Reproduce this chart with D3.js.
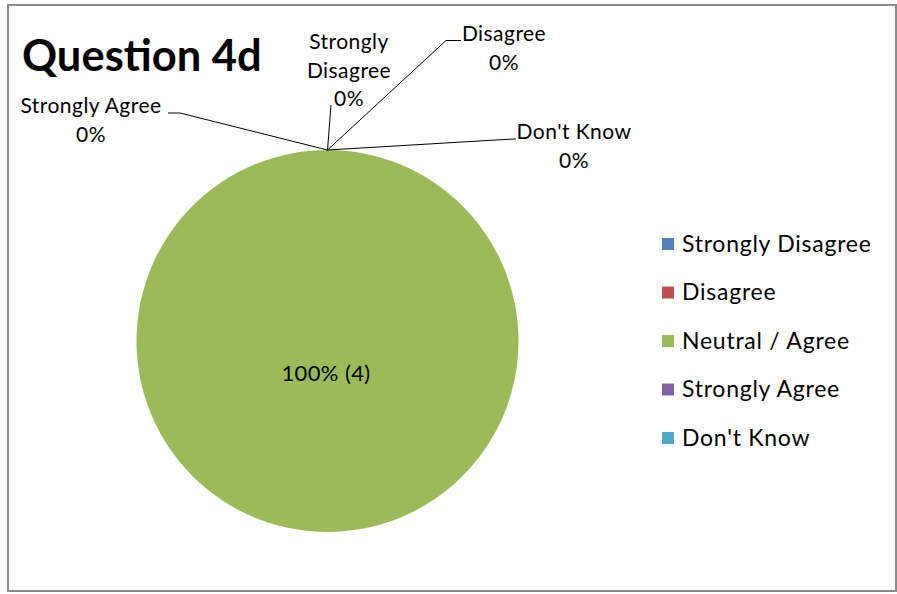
<!DOCTYPE html>
<html>
<head>
<meta charset="utf-8">
<script src="https://cdn.jsdelivr.net/npm/d3@7"></script>
<style>
  html, body { margin: 0; padding: 0; background: #fff; }
  svg { display: block; }
  text { font-family: Lato, "Open Sans", sans-serif; fill: #000; }
</style>
</head>
<body>
<svg id="chart" width="897" height="594"></svg>
<script>
// Survey responses for Question 4d
const categories = ["Strongly Disagree", "Disagree", "Neutral / Agree", "Strongly Agree", "Don't Know"];
const counts = [0, 0, 4, 0, 0];
const colors = ["#4F81BD", "#C0504D", "#9BBB59", "#8064A2", "#4BACC6"];
const title = "Question 4d";

const svg = d3.select("#chart");

// chart frame
svg.append("rect")
  .attr("x", 8).attr("y", 5)
  .attr("width", 888).attr("height", 586)
  .attr("fill", "#fff")
  .attr("stroke", "#8a8a8a")
  .attr("stroke-width", 2);

svg.append("text")
  .attr("x", 22).attr("y", 71)
  .attr("font-size", 43.5)
  .attr("font-weight", "bold")
  .text(title);

const cx = 327.5, cy = 341, r = 191;
const total = d3.sum(counts);
const data = categories.map((c, i) => ({ name: c, value: counts[i], color: colors[i] }));

const pie = d3.pie().sort(null).value(d => d.value);
const arcs = pie(data);
const arc = d3.arc().innerRadius(0).outerRadius(r);

const g = svg.append("g").attr("transform", `translate(${cx},${cy})`);
g.selectAll("path")
  .data(arcs.filter(a => a.value > 0))
  .join("path")
  .attr("d", arc)
  .attr("fill", d => d.data.color);

const pct = v => Math.round(v / total * 100) + "%";

// labels placed outside the pie for the empty slices, with leader lines
const outside = {
  "Strongly Disagree": { lines: ["Strongly", "Disagree"], x: 349, y: 49, path: [[331, 105]] },
  "Disagree": { lines: ["Disagree"], x: 504, y: 41, path: [[446, 40.5], [461, 40.5]] },
  "Strongly Agree": { lines: ["Strongly Agree"], x: 91, y: 113, path: [[180, 113], [168, 113]] },
  "Don't Know": { lines: ["Don't Know"], x: 574, y: 139, path: [[513, 139], [516, 139]] }
};
const lh = 28.5;

arcs.forEach(a => {
  const mid = (a.startAngle + a.endAngle) / 2;
  if (a.value > 0) {
    const full = a.endAngle - a.startAngle >= 2 * Math.PI - 1e-9;
    const [lx, ly] = arc.centroid(a);
    g.append("text")
      .attr("x", full ? -1.5 : lx)
      .attr("y", full ? 380.5 - cy : ly)
      .attr("text-anchor", "middle")
      .attr("font-size", 22)
      .attr("letter-spacing", 0.4)
      .text(`${pct(a.value)} (${a.value})`);
    return;
  }
  const L = outside[a.data.name];
  const [sx, sy] = d3.pointRadial(mid, r);
  const pts = [[cx + sx, cy + sy], ...L.path];
  svg.append("path")
    .attr("d", d3.line()(pts))
    .attr("fill", "none")
    .attr("stroke", "#000")
    .attr("stroke-width", 1);
  const t = svg.append("text")
    .attr("text-anchor", "middle")
    .attr("font-size", 21)
    .attr("letter-spacing", 0.45);
  [...L.lines, pct(a.value)].forEach((s, i) => {
    t.append("tspan").attr("x", L.x).attr("y", L.y + i * lh).text(s);
  });
});

// legend
const legend = svg.append("g").attr("transform", "translate(662,238)");
const item = legend.selectAll("g")
  .data(data)
  .join("g")
  .attr("transform", (d, i) => `translate(0,${i * 48.5})`);
item.append("rect")
  .attr("width", 12).attr("height", 12)
  .attr("fill", d => d.color);
item.append("text")
  .attr("x", 20).attr("y", 13.5)
  .attr("font-size", 23)
  .attr("letter-spacing", 0.75)
  .text(d => d.name);
</script>
</body>
</html>
